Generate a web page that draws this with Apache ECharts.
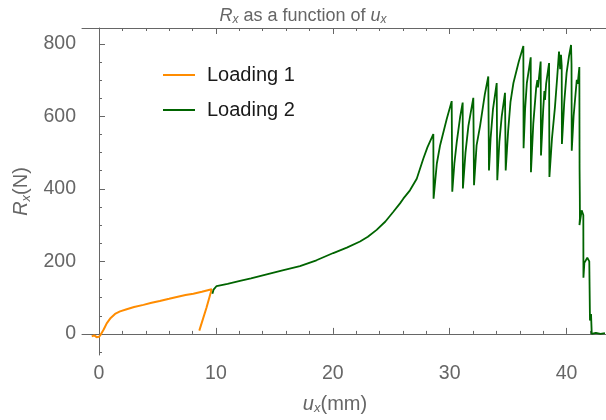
<!DOCTYPE html>
<html>
<head>
    <meta charset="utf-8">
    <title>Rx as a function of ux</title>
    <script src="https://cdn.jsdelivr.net/npm/echarts@6/dist/echarts.min.js"></script>
    <style>
        html, body { margin: 0; padding: 0; background: #fff; }
    </style>
</head>
<body>
<div id="main" style="width: 606px;height:420px;"></div>
<script type="text/javascript">
    // 读图得到的数据 (mm, N)
    var loading1X = [-0.62, -0.4, -0.2, 0.0, 0.15, 0.4, 0.66, 1.0, 1.37, 1.8, 2.37, 3.0, 3.8, 4.5, 5.2, 6.0, 6.65, 7.4, 8.07, 8.8, 9.64, 9.2, 8.58];
    var loading1Y = [-7, -4, -9, -8, -2, 12, 29, 44, 55, 62, 68, 74, 80, 86, 91, 97, 102, 107, 111, 116, 123, 73, 9];

    var loading2X = [9.7, 9.8, 10.06, 11.0, 12.06, 13.0, 14.35, 15.7, 17.19, 18.6, 20.04, 21.2, 22.33, 23.0, 23.75, 24.5, 25.18, 25.75, 26.03, 26.6, 27.18, 27.74, 28.1, 28.6,
        28.62, 28.9, 29.17, 29.74, 30.17,
        30.22, 30.4, 30.6, 30.9, 31.11,
        31.13, 31.35, 31.6, 32.02,
        32.08, 32.3, 32.6, 33.0, 33.3,
        33.36, 33.5, 33.7, 34.02,
        34.07, 34.25, 34.45, 34.73,
        34.79, 35.0, 35.2, 35.45, 35.9, 36.3,
        36.32, 36.45, 36.6, 36.93,
        36.95, 37.15, 37.4, 37.5, 37.55, 37.78,
        37.81, 38.0, 38.1, 38.15, 38.25, 38.5,
        38.53, 38.75, 39.0, 39.2, 39.35, 39.45, 39.52, 39.58,
        39.6, 39.8, 40.0, 40.2, 40.38, 40.42,
        40.44, 40.6, 40.87, 40.95, 41.09,
        41.11, 41.13, 41.14, 41.1, 41.29, 41.43, 41.44, 41.52, 41.77, 41.94, 42.0, 42.09, 42.15, 42.5, 42.9, 43.28];
    var loading2Y = [111, 122, 132, 138, 146, 153, 164, 175, 187, 203, 223, 238, 255, 268, 287, 310, 337, 360, 373, 396, 428, 483, 515, 551,
        373, 470, 519, 592, 642,
        392, 470, 528, 600, 638,
        401, 500, 574, 651,
        410, 520, 574, 660, 710,
        451, 540, 619, 692,
        424, 530, 600, 665,
        451, 560, 640, 692, 750, 794,
        512, 620, 692, 763,
        446, 580, 680, 700, 680, 751,
        492, 620, 670, 645, 690, 747,
        433, 540, 624, 710, 779, 730, 770, 740,
        524, 640, 720, 765, 797, 745,
        505, 601, 701, 690, 736,
        455, 380, 320, 300, 341, 328, 155, 196, 210, 200, 37, 55, 0, 3, 0, 2];

    var xMajor = [0, 10, 20, 30, 40];
    var xMinor = [2, 4, 6, 8, 12, 14, 16, 18, 22, 24, 26, 28, 32, 34, 36, 38, 42];
    var yMajor = [0, 200, 400, 600, 800];
    var yMinor = [-50, 50, 100, 150, 250, 300, 350, 450, 500, 550, 650, 700, 750];

    var X_MIN = -1.454, X_MAX = 43.37;
    var Y_MIN = -58.2, Y_MAX = 843.7;

    var FONT = 'Liberation Sans, Arial, sans-serif';
    var FRAME = '#666666';
    var TEXT = '#666666';

    function pairs(xs, ys) {
        var out = [];
        for (var i = 0; i < xs.length; i++) out.push([xs[i], ys[i]]);
        return out;
    }

    // 带下标的富文本样式
    function subRich(size, subSize) {
        return {
            i: { fontStyle: 'italic', fontWeight: 'normal', fontSize: size, color: TEXT, fontFamily: FONT, lineHeight: size + 2 },
            s: { fontStyle: 'italic', fontWeight: 'normal', fontSize: subSize, color: TEXT, fontFamily: FONT, verticalAlign: 'bottom', lineHeight: 8 },
            n: { fontWeight: 'normal', fontSize: size, color: TEXT, fontFamily: FONT, lineHeight: size + 2 }
        };
    }

    // 一条只画刻度的辅助轴
    function tickAxis(pos, vals, len, min, max) {
        return {
            type: 'value', min: min, max: max, position: pos,
            axisLine: { show: false },
            axisTick: { show: true, inside: true, length: len, customValues: vals, lineStyle: { color: FRAME, width: 1 } },
            axisLabel: { show: false },
            splitLine: { show: false }
        };
    }

    var myChart = echarts.init(document.getElementById('main'));

    var option = {
        animation: false,
        backgroundColor: '#fff',
        title: {
            text: '{i|R}{s|x}{n| as a function of }{i|u}{s|x}',
            left: 'center',
            top: 1,
            textStyle: { fontWeight: 'normal', rich: subRich(18, 12) }
        },
        legend: {
            data: ['Loading 1', 'Loading 2'],
            orient: 'vertical',
            left: 163,
            top: 65,
            padding: 0,
            icon: 'rect',
            itemWidth: 32,
            itemHeight: 2,
            itemGap: 15,
            textStyle: { fontSize: 20, color: '#1a1a1a', fontFamily: FONT, padding: [0, 0, 0, 7] }
        },
        grid: { left: 82, right: 0, top: 28, bottom: 62 },
        xAxis: [
            {
                type: 'value', min: X_MIN, max: X_MAX, position: 'bottom',
                axisLine: { show: true, lineStyle: { color: FRAME, width: 1 } },
                axisTick: { show: true, inside: true, length: 6, customValues: xMajor, lineStyle: { color: FRAME } },
                axisLabel: { customValues: xMajor, color: TEXT, fontSize: 19.5, fontFamily: FONT, margin: 9 },
                splitLine: { show: false },
                name: '{i|u}{s|x}{n|(mm)}',
                nameLocation: 'middle',
                nameGap: 38,
                nameTextStyle: { rich: subRich(20, 13), padding: [0, 18, 0, 0] }
            },
            tickAxis('bottom', xMinor, 3, X_MIN, X_MAX),
            {
                type: 'value', min: X_MIN, max: X_MAX, position: 'top',
                axisLine: { show: true, lineStyle: { color: FRAME, width: 1 } },
                axisTick: { show: true, inside: true, length: 6, customValues: xMajor, lineStyle: { color: FRAME } },
                axisLabel: { show: false },
                splitLine: { show: false }
            },
            tickAxis('top', xMinor, 3, X_MIN, X_MAX)
        ],
        yAxis: [
            {
                type: 'value', min: Y_MIN, max: Y_MAX, position: 'left',
                axisLine: { show: true, lineStyle: { color: FRAME, width: 1 } },
                axisTick: { show: true, inside: true, length: 6, customValues: yMajor, lineStyle: { color: FRAME } },
                axisLabel: { customValues: yMajor, color: TEXT, fontSize: 19.5, fontFamily: FONT, margin: 6 },
                splitLine: { show: false },
                name: '{i|R}{s|x}{n|(N)}',
                nameLocation: 'middle',
                nameRotate: 90,
                nameGap: 48,
                nameTextStyle: { rich: subRich(20, 13) }
            },
            tickAxis('left', yMinor, 3, Y_MIN, Y_MAX)
        ],
        series: [
            {
                name: 'Loading 1',
                type: 'line',
                data: pairs(loading1X, loading1Y),
                showSymbol: false,
                symbol: 'none',
                itemStyle: { color: '#ff8c00' },
                lineStyle: { color: '#ff8c00', width: 2 }
            },
            {
                name: 'Loading 2',
                type: 'line',
                data: pairs(loading2X, loading2Y),
                showSymbol: false,
                symbol: 'none',
                itemStyle: { color: '#006400' },
                lineStyle: { color: '#006400', width: 1.8 }
            }
        ]
    };

    myChart.setOption(option);
</script>
</body>
</html>
